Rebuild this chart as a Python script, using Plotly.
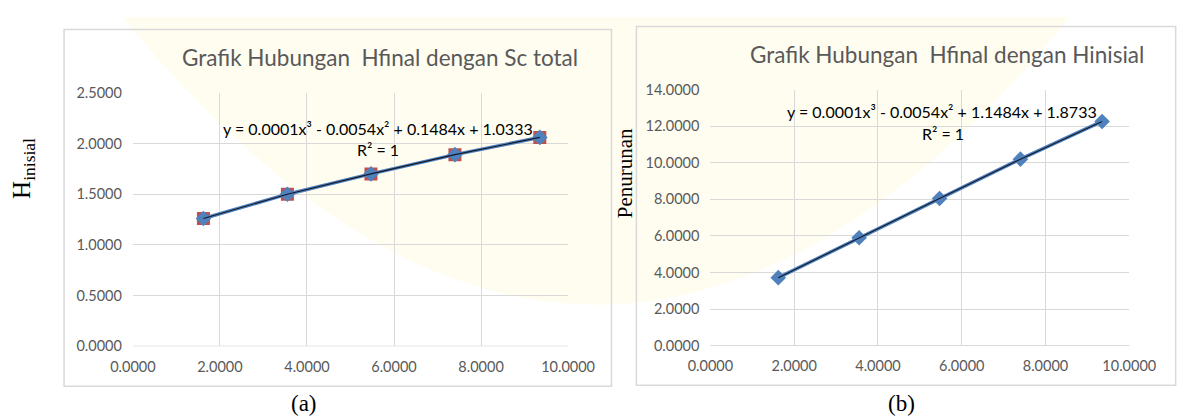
import plotly.graph_objects as go

W, H = 1187, 417

# ---- data ----
x_vals = [1.62, 3.55, 5.47, 7.40, 9.35]
h_inisial = [1.26, 1.50, 1.70, 1.89, 2.06]          # panel (a)
penurunan = [3.72, 5.90, 8.05, 10.20, 12.26]        # panel (b)

title_a = "Grafik Hubungan  Hfinal dengan Sc total"
title_b = "Grafik Hubungan  Hfinal dengan Hinisial"
eq_a = "y = 0.0001x³ - 0.0054x² + 0.1484x + 1.0333"
eq_b = "y = 0.0001x³ - 0.0054x² + 1.1484x + 1.8733"
r2_text = "R² = 1"
x_ticks = [0, 2, 4, 6, 8, 10]
y_ticks_a = [0, 0.5, 1.0, 1.5, 2.0, 2.5]
y_ticks_b = [0, 2, 4, 6, 8, 10, 12, 14]

BLUE = "#4F81BD"
RED = "#C0504D"
GRID = "#D9D9D9"
GREY_TXT = "#595959"
SANS = "Lato"
SERIF = "Liberation Serif"


def px(x):
    return x / W


def py(y):
    return 1 - y / H


fig = go.Figure()

# panel (a)
fig.add_trace(go.Scatter(x=x_vals, y=h_inisial, mode="markers", xaxis="x", yaxis="y",
                         marker=dict(symbol="square", size=13, color=RED), showlegend=False))
fig.add_trace(go.Scatter(x=x_vals, y=h_inisial, mode="lines+markers", xaxis="x", yaxis="y",
                         line=dict(color=BLUE, width=3.5),
                         marker=dict(symbol="diamond", size=12, color=BLUE), showlegend=False))
fig.add_trace(go.Scatter(x=x_vals, y=h_inisial, mode="lines", xaxis="x", yaxis="y",
                         line=dict(color="#141a2a", width=1.1), showlegend=False))

# panel (b)
fig.add_trace(go.Scatter(x=x_vals, y=penurunan, mode="lines+markers", xaxis="x2", yaxis="y2",
                         line=dict(color=BLUE, width=3.5),
                         marker=dict(symbol="diamond", size=12, color=BLUE), showlegend=False))
fig.add_trace(go.Scatter(x=x_vals, y=penurunan, mode="lines", xaxis="x2", yaxis="y2",
                         line=dict(color="#141a2a", width=1.1), showlegend=False))

axis_common = dict(showgrid=True, gridcolor=GRID, gridwidth=1, zeroline=False,
                   showline=False, ticks="", ticklabelstandoff=10,
                   tickfont=dict(family=SANS, size=14.5, color=GREY_TXT),
                   tickformat=".4f", fixedrange=True)

fig.update_layout(
    width=W, height=H,
    margin=dict(l=0, r=0, t=0, b=0),
    paper_bgcolor="white", plot_bgcolor="rgba(0,0,0,0)",
    xaxis=dict(domain=[px(106.4), px(560.7)], range=[0, 10], tickvals=x_ticks,
               anchor="y", **axis_common),
    yaxis=dict(domain=[py(343.3), py(79)], range=[0, 2.5], tickvals=y_ticks_a,
               anchor="x", **axis_common),
    xaxis2=dict(domain=[px(709.3), px(1146.6)], range=[0, 10], tickvals=x_ticks,
                anchor="y2", **axis_common),
    yaxis2=dict(domain=[py(342.7), py(75.7)], range=[0, 14], tickvals=y_ticks_b,
                anchor="x2", **axis_common),
)


def qpath(x0, y0, cx, cy, x1, y1, close=True):
    s = f"M {px(x0)},{py(y0)} Q {px(cx)},{py(cy)} {px(x1)},{py(y1)}"
    return s + (" Z" if close else "")


# very faint background watermark tint
fig.add_shape(type="path", xref="paper", yref="paper",
              path=qpath(95, 0, 590, 600, 1085, 0),
              fillcolor="rgba(255,247,205,0.3)", line=dict(width=0), layer="below")

# bottom axis lines (slightly darker)
for xr, yr in (("x", "y"), ("x2", "y2")):
    fig.add_shape(type="line", xref=xr + " domain", yref=yr, x0=0, x1=1, y0=0, y1=0,
                  line=dict(color="#BFBFBF", width=1), layer="below")

# chart frames
fig.add_shape(type="rect", xref="paper", yref="paper", x0=px(34.5), x1=px(606), y0=py(385), y1=py(13),
              line=dict(color=GRID, width=1.5), layer="below")
fig.add_shape(type="rect", xref="paper", yref="paper", x0=px(632), x1=px(1195), y0=py(384), y1=py(10),
              line=dict(color=GRID, width=1.5), layer="below")

ann = []
ann.append(dict(text=title_a, x=px(364), y=py(42), font=dict(family=SANS, size=22.5, color=GREY_TXT)))
ann.append(dict(text=title_b, x=px(956), y=py(39), font=dict(family=SANS, size=22.5, color=GREY_TXT)))
ann.append(dict(text=eq_a, x=px(362), y=py(116), font=dict(family=SANS, size=16, color="black")))
ann.append(dict(text=r2_text, x=px(362), y=py(138), font=dict(family=SANS, size=16, color="black")))
ann.append(dict(text=eq_b, x=px(951), y=py(99), font=dict(family=SANS, size=16, color="black")))
ann.append(dict(text=r2_text, x=px(952), y=py(121), font=dict(family=SANS, size=16, color="black")))
ann.append(dict(text="H<sub>inisial</sub>", x=px(-8), y=py(158), textangle=-90,
                font=dict(family=SERIF, size=25, color="black")))
ann.append(dict(text="Penurunan", x=px(620), y=py(163), textangle=-90,
                font=dict(family=SERIF, size=21, color="black")))
ann.append(dict(text="(a)", x=px(285), y=py(403), font=dict(family=SERIF, size=23, color="black")))
ann.append(dict(text="(b)", x=px(909), y=py(403), font=dict(family=SERIF, size=23, color="black")))

for a in ann:
    a.update(xref="paper", yref="paper", showarrow=False, xanchor="center", yanchor="middle")
    fig.add_annotation(**a)

fig.write_html("out.html")
